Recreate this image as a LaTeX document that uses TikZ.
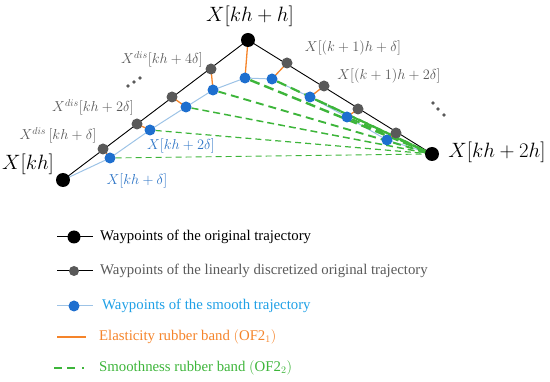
\documentclass[tikz,border=0pt]{standalone}
\usepackage{amsmath,amssymb}
\usepackage{fontspec}
\setmainfont{Liberation Serif}
\usepackage{tikz}
\usetikzlibrary{calc,positioning,backgrounds}
\usepackage{xcolor}
\definecolor{dgray}{HTML}{595959}
\definecolor{nblue}{HTML}{1E6FCF}
\definecolor{lblue}{HTML}{9DC3E6}
\definecolor{tblue}{HTML}{2E75C6}
\definecolor{sky}{HTML}{1FA0E6}
\definecolor{borange}{HTML}{F5842A}
\definecolor{sgreen}{HTML}{3DB53A}

\begin{document}
\begin{tikzpicture}[x=1pt, y=-1pt,
    orig/.style={circle, fill=black, inner sep=0pt, minimum size=14pt},
    disc/.style={circle, fill=dgray, inner sep=0pt, minimum size=11pt},
    smooth/.style={circle, fill=nblue, inner sep=0pt, minimum size=11pt},
    big/.style={inner sep=0pt, font=\fontsize{22.5}{26}\selectfont},
    small/.style={inner sep=0pt, font=\fontsize{14.8}{17}\selectfont},
    legtext/.style={inner sep=0pt, anchor=west, font=\fontsize{14.8}{17}\selectfont},
    elastic/.style={borange, line width=1.3pt},
    smoothband/.style={sgreen, dash pattern=on 6pt off 4pt}]
            \useasboundingbox (0,0) rectangle (550,382);

            % waypoints of the original trajectory
            \node[orig] (start) at (63,180) {};
            \node[orig] (top) at (248,40) {};
            \node[orig] (end) at (432,154) {};

            % linearly discretized waypoints
            \node[disc] (d1) at (103,149) {};
            \node[disc] (d2) at (137,124) {};
            \node[disc] (d3) at (172,97) {};
            \node[disc] (d4) at (211,69) {};
            \node[disc] (d5) at (287,63) {};
            \node[disc] (d6) at (324,86) {};
            \node[disc] (d7) at (358,109) {};
            \node[disc] (d8) at (396,133) {};

            % smooth waypoints
            \node[smooth] (s1) at (110,158) {};
            \node[smooth] (s2) at (150,130) {};
            \node[smooth] (s3) at (186,107) {};
            \node[smooth] (s4) at (213,90) {};
            \node[smooth] (s5) at (245,78) {};
            \node[smooth] (s6) at (272,79) {};
            \node[smooth] (s7) at (310,97) {};
            \node[smooth] (s8) at (347,117) {};
            \node[smooth] (s9) at (387,140) {};

            \begin{scope}[on background layer]
                \draw[line width=0.9pt] (start.center) -- (top.center) -- (end.center);
                \draw[lblue, line width=1pt] (start.center) -- (s1.center) -- (s2.center) -- (s3.center) -- (s4.center)
                    -- (s5.center) -- (s6.center) -- (s7.center) -- (s8.center) -- (s9.center) -- (end.center);
                \draw[smoothband, line width=0.9pt] (s1) -- (end.center);
                \draw[smoothband, line width=1.2pt] (s2) -- (end.center);
                \draw[smoothband, line width=1.5pt, dash pattern=on 7pt off 4pt] (s3) -- (end.center);
                \draw[smoothband, line width=1.9pt, dash pattern=on 8pt off 5pt] (s4) -- (end.center);
                \draw[smoothband, line width=2.4pt, dash pattern=on 10pt off 5pt] (s5) -- (end.center);
                \draw[smoothband, line width=2.2pt, dash pattern=on 10pt off 5pt] (s6) -- (end.center);
                \draw[smoothband, line width=2.1pt, dash pattern=on 9pt off 5pt] (s7) -- (end.center);
                \draw[smoothband, line width=1.9pt, dash pattern=on 8pt off 5pt] (s8) -- (end.center);
                \draw[elastic] (d1.center) -- (s1.center);
                \draw[elastic] (d2.center) -- (s2.center);
                \draw[elastic] (d3.center) -- (s3.center);
                \draw[elastic] (d4.center) -- (s4.center);
                \draw[elastic] (top.center) -- (s5.center);
                \draw[elastic] (d5.center) -- (s6.center);
                \draw[elastic] (d6.center) -- (s7.center);
                \draw[elastic] (d7.center) -- (s8.center);
                \draw[elastic] (d8.center) -- (s9.center);
            \end{scope}

            % labels
            \node[big] (ltop) at (250,16) {$X[kh+h]$};
            \node[big] (lstart) at (28,164) {$X[kh]$};
            \node[big] (lend) at (497,152) {$X[kh+2h]$};
            \node[small, text=dgray] (ld4) at (162,59) {$X^{dis}[kh+4\delta]$};
            \node[small, text=dgray] (ld2) at (93,107) {$X^{dis}[kh+2\delta]$};
            \node[small, text=dgray] (ld1) at (58,135) {$X^{dis}\,[kh+\delta]$};
            \node[small, text=dgray] (ld5) at (353,48) {$X[(k+1)h+\delta]$};
            \node[small, text=dgray] (ld6) at (389,76) {$X[(k+1)h+2\delta]$};
            \node[small, text=tblue] (ls2) at (181,146) {$X[kh+2\delta]$};
            \node[small, text=tblue] (ls1) at (137,181) {$X[kh+\delta]$};
            % dots
            \fill[dgray] (128,86) circle (1.8pt) (134,82) circle (1.8pt) (140,78) circle (1.8pt);
            \fill[dgray] (433,103) circle (1.8pt) (438,109) circle (1.8pt) (444,115) circle (1.8pt);

            % legend
            \draw[line width=1pt] (57,237) -- (93,237);
            \node[orig, minimum size=13pt] (k1) at (74,237) {};
            \node[legtext] (t1) at (100,237) {Waypoints of the original trajectory};
            \draw[line width=1pt] (57,271) -- (93,271);
            \node[disc, minimum size=10pt] (k2) at (74,271) {};
            \node[legtext, text=dgray] (t2) at (100,271) {Waypoints of the linearly discretized original trajectory};
            \draw[lblue, line width=1pt] (57,306) -- (93,306);
            \node[smooth] (k3) at (74,306) {};
            \node[legtext, text=sky] (t3) at (102,306) {Waypoints of the smooth trajectory};
            \draw[elastic, line width=1.6pt] (57,337) -- (86,337);
            \node[legtext, text=borange] (t4) at (99,337) {Elasticity rubber band $(\mathrm{OF2}_1)$};
            \draw[sgreen, line width=1.8pt, dash pattern=on 8pt off 5pt on 8pt off 7pt on 1.5pt off 9pt] (54,368) -- (91,368);
            \node[legtext, text=sgreen] (t5) at (99,368) {Smoothness rubber band $(\mathrm{OF2}_2)$};
        \end{tikzpicture}
\end{document}
